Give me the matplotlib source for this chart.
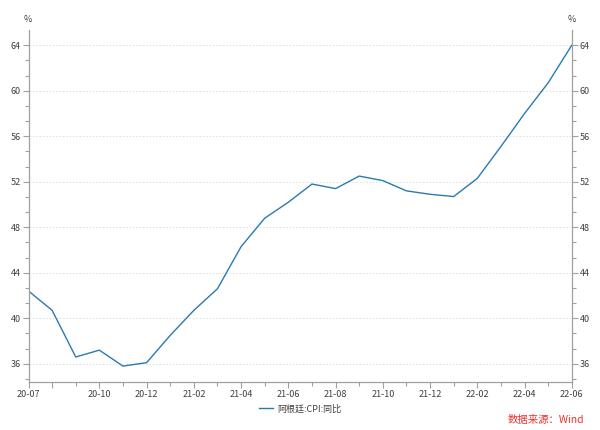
import matplotlib
matplotlib.use("Agg")
import matplotlib.pyplot as plt
from matplotlib.ticker import FixedLocator, MultipleLocator

plt.rcParams['font.family'] = ['Noto Sans CJK SC', 'DejaVu Sans']

# Argentina CPI yoy, monthly 2020-07 .. 2022-06
months = ["20-07", "20-08", "20-09", "20-10", "20-11", "20-12",
          "21-01", "21-02", "21-03", "21-04", "21-05", "21-06",
          "21-07", "21-08", "21-09", "21-10", "21-11", "21-12",
          "22-01", "22-02", "22-03", "22-04", "22-05", "22-06"]
cpi_yoy = [42.4, 40.7, 36.6, 37.2, 35.8, 36.1,
           38.5, 40.7, 42.6, 46.3, 48.8, 50.2,
           51.8, 51.4, 52.5, 52.1, 51.2, 50.9,
           50.7, 52.3, 55.1, 58.0, 60.7, 64.0]
y_major = [36, 40, 44, 48, 52, 56, 60, 64]

line_color = '#2a7ab0'
axis_color = '#a0a0a0'
text_color = '#404040'

fig = plt.figure(figsize=(6, 4.3), dpi=100)
ax = fig.add_axes([0.0475, 0.1116, 0.9055, 0.8184])

x = list(range(len(months)))
ax.plot(x, cpi_yoy, color=line_color, lw=1.0, label="阿根廷:CPI:同比")

ax.set_xlim(0, len(months) - 1)
ax.set_ylim(34.4, 65.33)

# x ticks: label every 2 months (20-08 tick kept but unlabeled)
major_idx = [0, 1] + [i for i in range(3, len(months), 2)]
minor_idx = [i for i in x if i not in major_idx]
ax.xaxis.set_major_locator(FixedLocator(major_idx))
ax.xaxis.set_minor_locator(FixedLocator(minor_idx))
ax.set_xticklabels(["" if i == 1 else months[i] for i in major_idx])

ax.yaxis.set_major_locator(FixedLocator(y_major))
ax.yaxis.set_minor_locator(MultipleLocator(4 / 3))
ax.tick_params(axis='y', which='both', left=True, right=True,
               labelleft=True, labelright=True)

ax.tick_params(which='major', length=4, width=0.8, color=axis_color,
               labelsize=6.5, labelcolor=text_color, pad=1.5)
ax.tick_params(which='minor', length=3, width=0.8, color=axis_color)

for side in ['left', 'right', 'bottom']:
    ax.spines[side].set_color(axis_color)
    ax.spines[side].set_linewidth(0.9)
ax.spines['top'].set_visible(False)

ax.grid(axis='y', which='major', linestyle=(0, (2, 2)), color='#dcdcdc', lw=0.6)

fig.text(28 / 600, 1 - 19 / 430, "%", ha='center', va='center', fontsize=6.5, color=text_color)
fig.text(572 / 600, 1 - 19 / 430, "%", ha='center', va='center', fontsize=6.5, color=text_color)

fig.legend(loc='center', bbox_to_anchor=(0.5, 1 - 409 / 430), frameon=False,
           fontsize=6.5, handlelength=1.6, handletextpad=0.4, labelcolor=text_color)

fig.text(584 / 600, 1 - 420 / 430, "数据来源：Wind", ha='right', va='center',
         fontsize=7.5, color='#e8332e')

fig.savefig("out.png", dpi=100)
